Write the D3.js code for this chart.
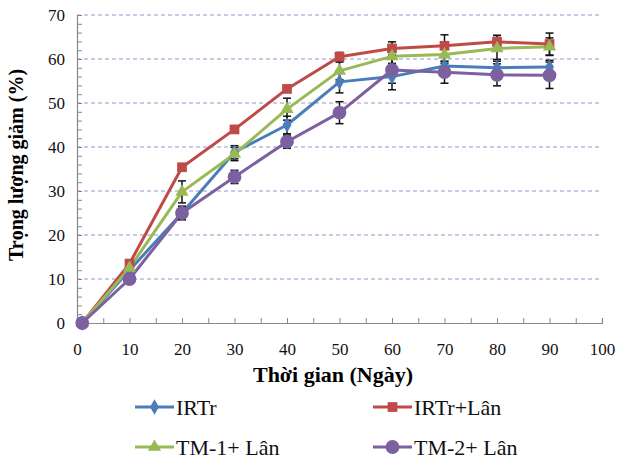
<!DOCTYPE html>
<html>
<head>
<meta charset="utf-8">
<script src="https://cdn.jsdelivr.net/npm/d3@7"></script>
<style>
  body { margin: 0; background: #fff; }
  svg text { font-family: "Liberation Serif", "DejaVu Serif", "Times New Roman", serif; }
</style>
</head>
<body>
<div id="chart"></div>
<script>
var days = [1, 10, 20, 30, 40, 50, 60, 70, 80, 90];

var irtr = [0, 12, 25, 38.8, 45, 54.8, 56, 58.4, 58, 58.2];
var irtrErr = [0, 0, 1.5, 1.5, 2, 2.5, 3, 1, 1.5, 1.5];

var irtrLan = [0, 13.5, 35.4, 44, 53.2, 60.5, 62.4, 63, 63.9, 63.4];
var irtrLanErr = [0, 0, 0.5, 0.5, 0.5, 1, 1.5, 2.5, 1.5, 2.5];

var tm1Lan = [0, 12.5, 29.8, 38.4, 48.6, 57.3, 60.6, 61, 62.4, 62.8];
var tm1LanErr = [0, 0, 2.5, 1.5, 2.5, 2, 2, 2, 2.5, 2];

var tm2Lan = [0, 10, 25, 33.2, 41.2, 47.8, 57.5, 57, 56.4, 56.3];
var tm2LanErr = [0, 0, 1.5, 1.5, 1.5, 2.5, 3, 2.5, 2.5, 3];

var seriesNames = ["IRTr", "IRTr+Lân", "TM-1+ Lân", "TM-2+ Lân"];
var colors = ["#4a7ebb", "#be4b48", "#98b954", "#7d60a0"];
var symbols = [d3.symbolDiamond, d3.symbolSquare, d3.symbolTriangle, d3.symbolCircle];
var symSizes = [70, 95, 75, 150];

var yTicks = [0, 10, 20, 30, 40, 50, 60, 70];
var xTicks = [0, 10, 20, 30, 40, 50, 60, 70, 80, 90, 100];

var series = [
  { name: seriesNames[0], vals: irtr, err: irtrErr },
  { name: seriesNames[1], vals: irtrLan, err: irtrLanErr },
  { name: seriesNames[2], vals: tm1Lan, err: tm1LanErr },
  { name: seriesNames[3], vals: tm2Lan, err: tm2LanErr }
];

var width = 617, height = 459;
var serif = "'Liberation Serif', 'DejaVu Serif', serif";
var svg = d3.select("#chart").append("svg")
    .attr("width", width)
    .attr("height", height);

var x = d3.scaleLinear().domain([0, 100]).range([77, 602]);
var y = d3.scaleLinear().domain([0, 70]).range([323, 15]);

// grid
svg.append("g")
    .selectAll("line")
    .data(yTicks.filter(d => d > 0))
    .enter()
    .append("line")
    .attr("x1", x(0))
    .attr("x2", x(100))
    .attr("y1", d => y(d))
    .attr("y2", d => y(d))
    .attr("stroke", "#9a94cc")
    .attr("stroke-width", 1)
    .attr("stroke-dasharray", "4,3");

// axes
var xAxis = d3.axisBottom(x)
    .tickValues(d3.range(0, 101, 5))
    .tickSize(-5)
    .tickFormat(d => xTicks.includes(d) ? d : "");
var gx = svg.append("g")
    .attr("transform", `translate(0, ${y(0)})`)
    .call(xAxis);

var yAxis = d3.axisLeft(y)
    .tickValues(d3.range(0, 71, 2))
    .tickSize(-5)
    .tickFormat(d => yTicks.includes(d) ? d : "");
var gy = svg.append("g")
    .attr("transform", `translate(${x(0)}, 0)`)
    .call(yAxis);

[gx, gy].forEach(g => {
  g.attr("font-family", serif).attr("font-size", 17);
  g.select(".domain").attr("stroke", "#888").attr("stroke-width", 1.2);
  g.selectAll(".tick line").attr("stroke", "#888");
  g.selectAll(".tick text")
    .attr("fill", "#111")
    .style("font-size", "17px")
    .style("font-family", serif);
});
gx.selectAll(".tick text").attr("dy", "0.35em").attr("y", 26);
gy.selectAll(".tick text").attr("x", -12).attr("dy", "0.35em");

// lines
var line = d3.line()
    .x((d, i) => x(days[i]))
    .y(d => y(d));

series.forEach((s, k) => {
  svg.append("path")
    .datum(s.vals)
    .attr("fill", "none")
    .attr("stroke", colors[k])
    .attr("stroke-width", 3)
    .attr("stroke-linejoin", "round")
    .attr("d", line);
});

// error bars
series.forEach((s, k) => {
  var g = svg.append("g").attr("stroke", "#111").attr("stroke-width", 1.5);
  s.vals.forEach((v, i) => {
    var e = s.err[i];
    if (!e) return;
    var cx = x(days[i]);
    g.append("line").attr("x1", cx).attr("x2", cx).attr("y1", y(v - e)).attr("y2", y(v + e));
    g.append("line").attr("x1", cx - 4).attr("x2", cx + 4).attr("y1", y(v - e)).attr("y2", y(v - e));
    g.append("line").attr("x1", cx - 4).attr("x2", cx + 4).attr("y1", y(v + e)).attr("y2", y(v + e));
  });
});

// markers
series.forEach((s, k) => {
  svg.append("g")
    .selectAll("path")
    .data(s.vals)
    .enter()
    .append("path")
    .attr("transform", (d, i) => `translate(${x(days[i])}, ${y(d)})`)
    .attr("d", d3.symbol().type(symbols[k]).size(symSizes[k]))
    .attr("fill", colors[k]);
});

// axis titles
svg.append("text")
    .attr("x", 333)
    .attr("y", 382)
    .attr("text-anchor", "middle")
    .style("font-family", serif)
    .style("font-size", "22px")
    .style("font-weight", "bold")
    .text("Thời gian (Ngày)");

svg.append("text")
    .attr("transform", "translate(23, 165) rotate(-90)")
    .attr("text-anchor", "middle")
    .style("font-family", serif)
    .style("font-size", "20px")
    .style("font-weight", "bold")
    .text("Trọng lượng giảm (%)");

// legend
var legendPos = [[135, 407], [373, 407], [135, 447], [373, 447]];
series.forEach((s, k) => {
  var lg = svg.append("g").attr("transform", `translate(${legendPos[k][0]}, ${legendPos[k][1]})`);
  lg.append("line")
    .attr("x1", 0).attr("x2", 39)
    .attr("stroke", colors[k])
    .attr("stroke-width", 3);
  lg.append("path")
    .attr("transform", "translate(19.5, 0)")
    .attr("d", d3.symbol().type(symbols[k]).size(symSizes[k]))
    .attr("fill", colors[k]);
  lg.append("text")
    .attr("x", 41)
    .attr("dy", "0.35em")
    .style("font-family", serif)
    .style("font-size", "22px")
    .attr("fill", "#111")
    .text(s.name);
});
</script>
</body>
</html>
